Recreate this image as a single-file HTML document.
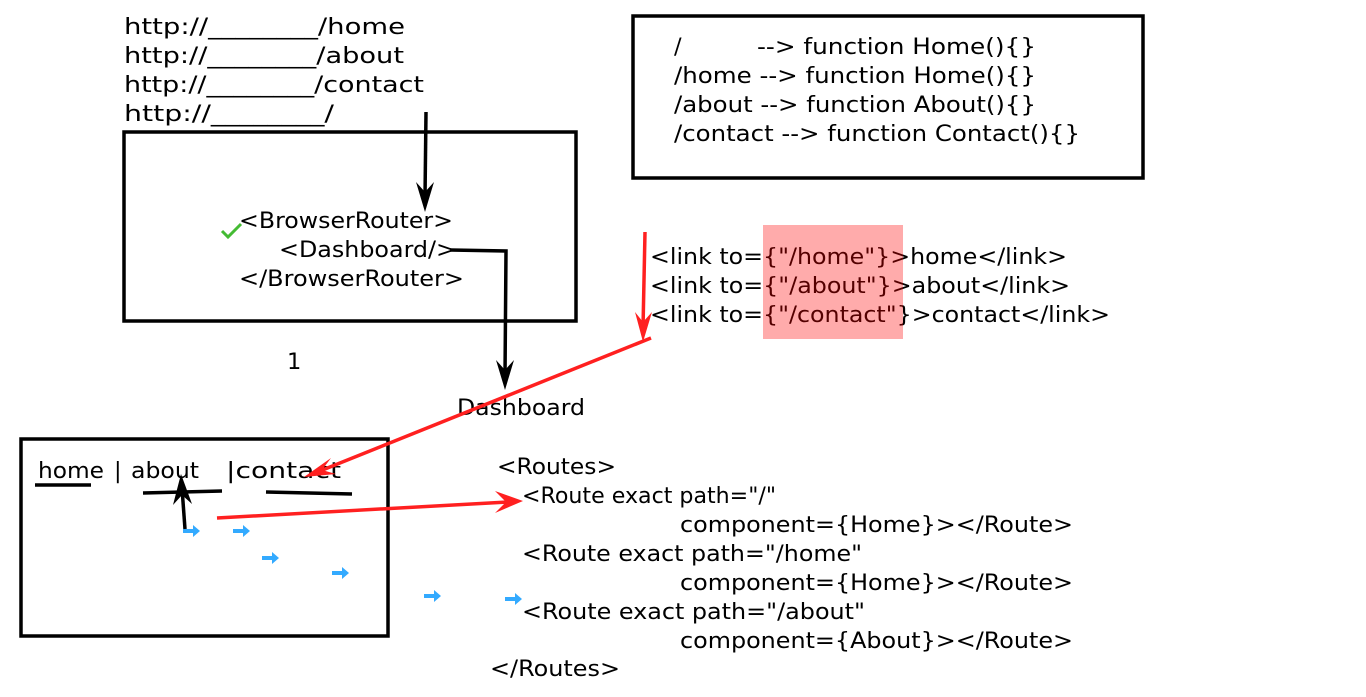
<!DOCTYPE html>
<html><head><meta charset="utf-8"><style>html,body{margin:0;padding:0;background:#fff}svg{display:block}</style></head>
<body>
<svg width="1366" height="697" xmlns="http://www.w3.org/2000/svg" font-family="'DejaVu Sans', 'Liberation Sans', sans-serif" font-size="22.5">
<g fill="none" stroke="#000" stroke-width="3.5">
<rect x="124" y="132" width="452" height="189"/>
<rect x="633" y="16" width="510" height="162"/>
<rect x="21" y="439" width="367" height="197"/>
</g>
<g fill="#000">
<text x="124" y="34" textLength="281" lengthAdjust="spacingAndGlyphs">http://________/home</text>
<text x="124" y="63" textLength="280" lengthAdjust="spacingAndGlyphs">http://________/about</text>
<text x="124" y="92" textLength="300" lengthAdjust="spacingAndGlyphs">http://________/contact</text>
<text x="124" y="121" textLength="210" lengthAdjust="spacingAndGlyphs">http://________/</text>
<text x="674" y="54">/</text>
<text x="757" y="54" textLength="279" lengthAdjust="spacingAndGlyphs">--&gt; function Home(){}</text>
<text x="674" y="83" textLength="362" lengthAdjust="spacingAndGlyphs">/home --&gt; function Home(){}</text>
<text x="674" y="112" textLength="362" lengthAdjust="spacingAndGlyphs">/about --&gt; function About(){}</text>
<text x="674" y="141" textLength="406" lengthAdjust="spacingAndGlyphs">/contact --&gt; function Contact(){}</text>
<text x="239" y="228" textLength="214" lengthAdjust="spacingAndGlyphs">&lt;BrowserRouter&gt;</text>
<text x="279" y="257" textLength="177" lengthAdjust="spacingAndGlyphs">&lt;Dashboard/&gt;</text>
<text x="239" y="286" textLength="225" lengthAdjust="spacingAndGlyphs">&lt;/BrowserRouter&gt;</text>
<text x="650" y="264" textLength="417" lengthAdjust="spacingAndGlyphs">&lt;link to={"/home"}&gt;home&lt;/link&gt;</text>
<text x="650" y="293" textLength="420" lengthAdjust="spacingAndGlyphs">&lt;link to={"/about"}&gt;about&lt;/link&gt;</text>
<text x="650" y="322" textLength="460" lengthAdjust="spacingAndGlyphs">&lt;link to={"/contact"}&gt;contact&lt;/link&gt;</text>
<text x="287" y="369">1</text>
<text x="457" y="415" textLength="128" lengthAdjust="spacingAndGlyphs">Dashboard</text>
<text x="38" y="478" textLength="66" lengthAdjust="spacingAndGlyphs">home</text>
<text x="114" y="478">|</text>
<text x="131" y="478" textLength="68" lengthAdjust="spacingAndGlyphs">about</text>
<text x="226" y="478" textLength="115" lengthAdjust="spacingAndGlyphs">|contact</text>
<text x="497" y="474" textLength="119" lengthAdjust="spacingAndGlyphs">&lt;Routes&gt;</text>
<text x="522" y="503" textLength="254" lengthAdjust="spacingAndGlyphs">&lt;Route exact path="/"</text>
<text x="680" y="532" textLength="393" lengthAdjust="spacingAndGlyphs">component={Home}&gt;&lt;/Route&gt;</text>
<text x="522" y="561" textLength="340" lengthAdjust="spacingAndGlyphs">&lt;Route exact path="/home"</text>
<text x="680" y="590" textLength="393" lengthAdjust="spacingAndGlyphs">component={Home}&gt;&lt;/Route&gt;</text>
<text x="522" y="619" textLength="343" lengthAdjust="spacingAndGlyphs">&lt;Route exact path="/about"</text>
<text x="680" y="648" textLength="393" lengthAdjust="spacingAndGlyphs">component={About}&gt;&lt;/Route&gt;</text>
<text x="490" y="676" textLength="130" lengthAdjust="spacingAndGlyphs">&lt;/Routes&gt;</text>
</g>
<rect x="763" y="225" width="140" height="114" fill="#ff0000" fill-opacity="0.33"/>
<polyline points="222,231 228,237 241,224" fill="none" stroke="#44bb33" stroke-width="3"/>
<g stroke="#000" stroke-width="3.5" fill="none">
<line x1="426" y1="112" x2="425" y2="198"/>
<polyline points="450,250 506,251 505,376"/>
<line x1="185" y1="529" x2="182" y2="488"/>
<line x1="35" y1="485" x2="91" y2="485"/>
<line x1="143" y1="493" x2="222" y2="491"/>
<line x1="266" y1="492" x2="352" y2="494"/>
</g>
<g fill="#000">
<path d="M425 212 L416 182 L425 192 L434 182 Z"/>
<path d="M505 390 L496 360 L505 370 L514 360 Z"/>
<path d="M181 474 L173 505 L182 495 L192 504 Z"/>
</g>
<g stroke="#ff2020" stroke-width="3.5" fill="none">
<line x1="645" y1="232" x2="643" y2="328"/>
<line x1="651" y1="338" x2="320" y2="471"/>
<line x1="217" y1="518" x2="508" y2="502"/>
</g>
<g fill="#ff2020">
<path d="M643 342 L635 312 L643 322 L652 312 Z"/>
<path d="M304 477 L331 458 L322 470 L336 474 Z"/>
<path d="M523 501 L495 491 L506 502 L495 513 Z"/>
</g>
<g fill="#33aaff">
<path d="M183 529 h10 v-4 l7 6 l-7 6 v-4 h-10 Z"/>
<path d="M233 529 h10 v-4 l7 6 l-7 6 v-4 h-10 Z"/>
<path d="M262 556 h10 v-4 l7 6 l-7 6 v-4 h-10 Z"/>
<path d="M332 571 h10 v-4 l7 6 l-7 6 v-4 h-10 Z"/>
<path d="M424 594 h10 v-4 l7 6 l-7 6 v-4 h-10 Z"/>
<path d="M505 597 h10 v-4 l7 6 l-7 6 v-4 h-10 Z"/>
</g>
</svg>
</body></html>
